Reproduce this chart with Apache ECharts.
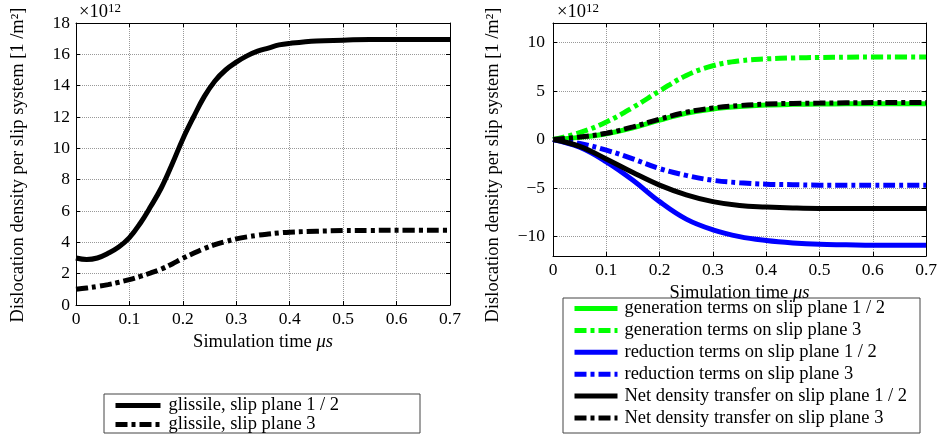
<!DOCTYPE html>
<html>
<head>
<meta charset="utf-8">
<script src="https://cdn.jsdelivr.net/npm/echarts@6/dist/echarts.min.js"></script>
<style>html,body{margin:0;padding:0;background:#fff;}#c{width:940px;height:437px;}</style>
</head>
<body>
<div id="c"></div>
<script>
// values in units of 1e12 1/m^2
var tLeft = [0, 0.02, 0.04, 0.06, 0.08, 0.10, 0.12, 0.14, 0.16, 0.18, 0.20, 0.22, 0.24, 0.26, 0.28, 0.30, 0.32, 0.34, 0.36, 0.38, 0.40, 0.45, 0.50, 0.55, 0.60, 0.70];
var glissile12 = [3.0, 2.9, 3.0, 3.3, 3.7, 4.3, 5.2, 6.3, 7.5, 9.0, 10.6, 12.0, 13.3, 14.3, 15.0, 15.5, 15.9, 16.2, 16.4, 16.6, 16.7, 16.85, 16.9, 16.95, 16.95, 16.95];
var glissile3 = [1.0, 1.08, 1.18, 1.3, 1.45, 1.62, 1.82, 2.05, 2.3, 2.62, 2.98, 3.3, 3.6, 3.85, 4.05, 4.22, 4.35, 4.45, 4.53, 4.6, 4.65, 4.71, 4.75, 4.76, 4.77, 4.77];

var tRight = [0, 0.05, 0.10, 0.15, 0.20, 0.25, 0.30, 0.35, 0.40, 0.45, 0.50, 0.55, 0.60, 0.65, 0.70];
var gen12 = [0, 0.22, 0.6, 1.2, 2.0, 2.7, 3.15, 3.4, 3.55, 3.62, 3.65, 3.67, 3.68, 3.68, 3.68];
var gen3 = [0, 0.7, 1.8, 3.3, 5.0, 6.6, 7.6, 8.1, 8.3, 8.4, 8.45, 8.48, 8.5, 8.5, 8.5];
var red12 = [0, -0.8, -2.3, -4.2, -6.4, -8.2, -9.3, -10.0, -10.4, -10.65, -10.8, -10.85, -10.9, -10.9, -10.9];
var red3 = [0, -0.4, -1.1, -2.0, -3.0, -3.7, -4.2, -4.45, -4.6, -4.65, -4.7, -4.7, -4.7, -4.7, -4.7];
var net12 = [0, -0.7, -2.0, -3.4, -4.7, -5.7, -6.4, -6.8, -6.95, -7.05, -7.1, -7.1, -7.1, -7.1, -7.1];
var net3 = [0, 0.25, 0.65, 1.3, 2.1, 2.8, 3.25, 3.5, 3.65, 3.72, 3.75, 3.78, 3.8, 3.8, 3.8];

var leftYTicks = [0, 2, 4, 6, 8, 10, 12, 14, 16, 18];
var rightYTicks = [-10, -5, 0, 5, 10];
var xTicks = [0, 0.1, 0.2, 0.3, 0.4, 0.5, 0.6, 0.7];

var FONT = 'Liberation Serif';
var DASHDOT = [12, 4, 4, 4];
var TICKFS = 17.5, NAMEFS = 18.5;

function pairs(t, v) { return t.map(function (x, i) { return [x, v[i]]; }); }
function fmt(v) { return String(v).replace('-', '\u2212'); }

function xAx(grid, top, gap) {
  return {
    type: 'value', gridIndex: grid, min: 0, max: 0.7, position: top ? 'top' : 'bottom',
    axisLine: { show: true, onZero: false, lineStyle: { color: '#000', width: 1 } },
    axisTick: { show: true, inside: true, length: 4, customValues: xTicks, lineStyle: { color: '#000' } },
    axisLabel: { show: !top, customValues: xTicks, color: '#000', fontFamily: FONT, fontSize: TICKFS, margin: 5, formatter: function (v) { return String(v); } },
    splitLine: { show: !top, lineStyle: { color: '#999', type: 'dotted', width: 1 } },
    name: top ? '' : '{a|Simulation time }{b|\u03bcs}',
    nameLocation: 'middle', nameGap: gap,
    nameTextStyle: { rich: { a: { fontFamily: FONT, fontSize: NAMEFS, color: '#000' }, b: { fontFamily: FONT, fontSize: NAMEFS, fontStyle: 'italic', color: '#000' } } }
  };
}
function yAx(grid, right, min, max, ticks, margin) {
  return {
    type: 'value', gridIndex: grid, min: min, max: max, position: right ? 'right' : 'left',
    axisLine: { show: true, onZero: false, lineStyle: { color: '#000', width: 1 } },
    axisTick: { show: true, inside: true, length: 4, customValues: ticks, lineStyle: { color: '#000' } },
    axisLabel: { show: !right, customValues: ticks, color: '#000', fontFamily: FONT, fontSize: TICKFS, margin: margin, formatter: fmt },
    splitLine: { show: !right, lineStyle: { color: '#999', type: 'dotted', width: 1 } }
  };
}
function ser(name, xi, yi, t, v, color, dash) {
  return {
    name: name, type: 'line', xAxisIndex: xi, yAxisIndex: yi, data: pairs(t, v),
    smooth: 0.4, symbol: 'none', showSymbol: false, animation: false,
    lineStyle: { color: color, width: 5, type: dash ? DASHDOT : 'solid', cap: 'butt' },
    itemStyle: { color: color }
  };
}
var noSym = { opacity: 0, color: 'rgba(0,0,0,0)', borderWidth: 0 };

var chart = echarts.init(document.getElementById('c'), null, { renderer: 'canvas' });
chart.setOption({
  animation: false,
  backgroundColor: '#fff',
  grid: [
    { left: 76, top: 23, width: 374, height: 282 },
    { left: 553, top: 23, width: 374, height: 233 }
  ],
  xAxis: [xAx(0, false, 23), xAx(0, true, 0), xAx(1, false, 15), xAx(1, true, 0)],
  yAxis: [yAx(0, false, 0, 18, leftYTicks, 6), yAx(0, true, 0, 18, leftYTicks, 6),
          yAx(1, false, -12, 12, rightYTicks, 8), yAx(1, true, -12, 12, rightYTicks, 8)],
  legend: [
    {
      left: 113, top: 396, orient: 'vertical', padding: 0, itemWidth: 45, itemHeight: 18, itemGap: 0,
      data: ['glissile, slip plane 1 / 2', 'glissile, slip plane 3'],
      lineStyle: { width: 5 }, itemStyle: noSym,
      textStyle: { fontFamily: FONT, fontSize: NAMEFS, color: '#000', padding: [0, 0, 0, 3] }
    },
    {
      left: 572, top: 299, orient: 'vertical', padding: 0, itemWidth: 43, itemHeight: 18, itemGap: 2.9,
      data: ['generation terms on slip plane 1 / 2', 'generation terms on slip plane 3',
             'reduction terms on slip plane 1 / 2', 'reduction terms on slip plane 3',
             'Net density transfer on slip plane 1 / 2', 'Net density transfer on slip plane 3'],
      lineStyle: { width: 5 }, itemStyle: noSym,
      textStyle: { fontFamily: FONT, fontSize: NAMEFS, color: '#000', padding: [0, 0, 0, 2] }
    }
  ],
  graphic: [
    { type: 'rect', shape: { x: 104, y: 394, width: 316, height: 39 }, style: { fill: 'none', stroke: '#444', lineWidth: 1 }, z: 0 },
    { type: 'rect', shape: { x: 563, y: 298, width: 357, height: 135 }, style: { fill: 'none', stroke: '#444', lineWidth: 1 }, z: 0 },
    { type: 'text', left: 79, top: 2, style: { text: '{a|\u00d710}{b|12}', rich: { a: { fontFamily: FONT, fontSize: NAMEFS, fill: '#000' }, b: { fontFamily: FONT, fontSize: 13, fill: '#000', verticalAlign: 'top', padding: [0, 0, 8, 0] } } } },
    { type: 'text', left: 557, top: 2, style: { text: '{a|\u00d710}{b|12}', rich: { a: { fontFamily: FONT, fontSize: NAMEFS, fill: '#000' }, b: { fontFamily: FONT, fontSize: 13, fill: '#000', verticalAlign: 'top', padding: [0, 0, 8, 0] } } } },
    { type: 'text', x: 18, y: 165, rotation: Math.PI / 2, style: { text: 'Dislocation density per slip system [1 /m\u00b2]', fontFamily: FONT, fontSize: NAMEFS, fill: '#000', align: 'center', verticalAlign: 'middle' } },
    { type: 'text', x: 493, y: 165, rotation: Math.PI / 2, style: { text: 'Dislocation density per slip system [1 /m\u00b2]', fontFamily: FONT, fontSize: NAMEFS, fill: '#000', align: 'center', verticalAlign: 'middle' } }
  ],
  series: [
    ser('glissile, slip plane 1 / 2', 0, 0, tLeft, glissile12, '#000', false),
    ser('glissile, slip plane 3', 0, 0, tLeft, glissile3, '#000', true),
    ser('generation terms on slip plane 1 / 2', 2, 2, tRight, gen12, '#00ff00', false),
    ser('generation terms on slip plane 3', 2, 2, tRight, gen3, '#00ff00', true),
    ser('reduction terms on slip plane 1 / 2', 2, 2, tRight, red12, '#0000ff', false),
    ser('reduction terms on slip plane 3', 2, 2, tRight, red3, '#0000ff', true),
    ser('Net density transfer on slip plane 1 / 2', 2, 2, tRight, net12, '#000', false),
    ser('Net density transfer on slip plane 3', 2, 2, tRight, net3, '#000', true)
  ]
});
</script>
</body>
</html>
